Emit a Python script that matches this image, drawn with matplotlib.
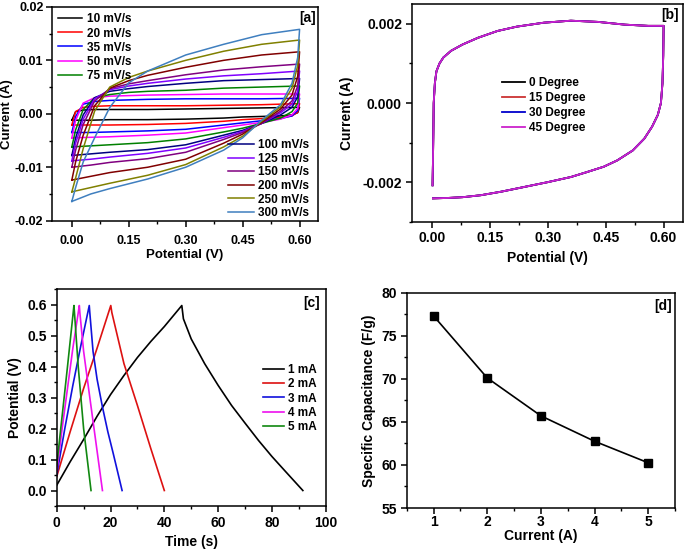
import matplotlib
matplotlib.use('Agg')
from matplotlib import pyplot as plt
from matplotlib.ticker import MultipleLocator, FormatStrFormatter

plt.rcParams['font.family'] = 'Liberation Sans'
plt.rcParams['font.weight'] = 'bold'
plt.rcParams['axes.unicode_minus'] = False
plt.rcParams['axes.linewidth'] = 1.1

# ---------------------------------------------------------------------------
# [a] CV at different scan rates
# ---------------------------------------------------------------------------
scan_labels = ['10 mV/s', '20 mV/s', '35 mV/s', '50 mV/s', '75 mV/s',
               '100 mV/s', '125 mV/s', '150 mV/s', '200 mV/s', '250 mV/s', '300 mV/s']
scan_colors = ['#000000', '#ff0000', '#0000ff', '#ff00ff', '#008000',
               '#000080', '#8000ff', '#800080', '#800000', '#808000', '#3f7fbf']

v_up = [0.0, 0.01, 0.03, 0.06, 0.1, 0.15, 0.2, 0.3, 0.4, 0.5, 0.6]
v_down = [0.6, 0.595, 0.58, 0.55, 0.5, 0.45, 0.4, 0.3, 0.2, 0.1, 0.05, 0.0]

i_up = [
    [-0.0012, 0.0004, 0.0007, 0.0008, 0.0008, 0.0008, 0.0008, 0.0009, 0.0010, 0.0011, 0.0012],
    [-0.0021, 0.0004, 0.0012, 0.0014, 0.0015, 0.0015, 0.0015, 0.0015, 0.0016, 0.0017, 0.0019],
    [-0.0035, -0.0005, 0.0018, 0.0023, 0.0025, 0.0026, 0.0027, 0.0028, 0.0028, 0.0028, 0.0029],
    [-0.0045, -0.0012, 0.0020, 0.0030, 0.0033, 0.0034, 0.0035, 0.0036, 0.0037, 0.0037, 0.0037],
    [-0.0062, -0.0030, 0.0008, 0.0030, 0.0036, 0.0040, 0.0042, 0.0044, 0.0048, 0.0050, 0.0052],
    [-0.0078, -0.0045, -0.0002, 0.0030, 0.0042, 0.0047, 0.0051, 0.0057, 0.0062, 0.0064, 0.0066],
    [-0.0088, -0.0055, -0.0010, 0.0028, 0.0045, 0.0052, 0.0057, 0.0065, 0.0071, 0.0075, 0.0080],
    [-0.0100, -0.0068, -0.0020, 0.0024, 0.0047, 0.0056, 0.0062, 0.0073, 0.0082, 0.0088, 0.0093],
    [-0.0124, -0.0090, -0.0040, 0.0015, 0.0048, 0.0062, 0.0072, 0.0087, 0.0100, 0.0110, 0.0116],
    [-0.0146, -0.0120, -0.0065, 0.0005, 0.0050, 0.0068, 0.0080, 0.0100, 0.0117, 0.0130, 0.0138],
    [-0.0164, -0.0138, -0.0090, -0.0045, 0.0012, 0.0058, 0.0080, 0.0110, 0.0130, 0.0148, 0.0158],
]
i_down = [
    [0.0012, 0.0002, -0.0002, -0.0004, -0.0005, -0.0006, -0.0008, -0.0010, -0.0011, -0.0011, -0.0012, -0.0012],
    [0.0019, 0.0003, -0.0004, -0.0007, -0.0009, -0.0011, -0.0014, -0.0018, -0.0020, -0.0021, -0.0021, -0.0021],
    [0.0029, 0.0006, -0.0004, -0.0009, -0.0013, -0.0017, -0.0021, -0.0029, -0.0032, -0.0034, -0.0035, -0.0035],
    [0.0037, 0.0010, -0.0002, -0.0010, -0.0016, -0.0021, -0.0026, -0.0036, -0.0040, -0.0043, -0.0044, -0.0045],
    [0.0052, 0.0020, 0.0004, -0.0008, -0.0018, -0.0027, -0.0034, -0.0047, -0.0054, -0.0058, -0.0060, -0.0062],
    [0.0066, 0.0032, 0.0012, -0.0002, -0.0018, -0.0031, -0.0040, -0.0058, -0.0067, -0.0072, -0.0075, -0.0078],
    [0.0080, 0.0042, 0.0018, 0.0002, -0.0018, -0.0033, -0.0044, -0.0064, -0.0074, -0.0081, -0.0085, -0.0088],
    [0.0093, 0.0052, 0.0024, 0.0005, -0.0018, -0.0035, -0.0048, -0.0072, -0.0084, -0.0091, -0.0096, -0.0100],
    [0.0116, 0.0070, 0.0035, 0.0009, -0.0016, -0.0038, -0.0055, -0.0085, -0.0100, -0.0110, -0.0117, -0.0124],
    [0.0138, 0.0090, 0.0048, 0.0013, -0.0014, -0.0042, -0.0062, -0.0095, -0.0115, -0.0130, -0.0138, -0.0146],
    [0.0158, 0.0105, 0.0057, 0.0017, -0.0012, -0.0045, -0.0068, -0.0100, -0.0122, -0.0140, -0.0150, -0.0164],
]

# ---------------------------------------------------------------------------
# [b] CV at different bending angles (the four curves overlap)
# ---------------------------------------------------------------------------
angle_labels = ['0 Degree', '15 Degree', '30 Degree', '45 Degree']
angle_colors = ['#000000', '#cc3333', '#0000cc', '#cc22cc']
bend_v = [0.002, 0.003, 0.004, 0.005, 0.008, 0.012, 0.02, 0.03, 0.05, 0.08, 0.12, 0.17, 0.22,
          0.29, 0.36, 0.43, 0.5, 0.56, 0.6,
          0.6, 0.599, 0.597, 0.593, 0.585, 0.57, 0.55, 0.52, 0.48, 0.445, 0.40, 0.36, 0.30,
          0.24, 0.18, 0.127, 0.08, 0.04, 0.003]
bend_i = [-0.00208, -0.0015, -0.0008, 0.0, 0.0005, 0.0008, 0.001, 0.00115, 0.00132, 0.00148, 0.00165,
          0.00182, 0.00193, 0.00203, 0.00208, 0.00205, 0.00198, 0.00195, 0.00195,
          0.00195, 0.0012, 0.0005, 0.0, -0.0003, -0.0006, -0.0009, -0.0012, -0.00145, -0.00161,
          -0.00175, -0.00187, -0.002, -0.00212, -0.00224, -0.00233, -0.00238, -0.0024, -0.00241]

# ---------------------------------------------------------------------------
# [c] galvanostatic charge/discharge
# ---------------------------------------------------------------------------
gcd_labels = ['1 mA', '2 mA', '3 mA', '4 mA', '5 mA']
gcd_colors = ['#000000', '#dd1111', '#1111dd', '#ee11ee', '#118811']
gcd_t = [
    [0, 5, 10, 15, 20, 25, 30, 35, 40, 46.5, 47.1, 50, 55, 60, 65, 70, 75, 80, 85, 91.5],
    [0, 5, 10, 15, 20.1, 20.5, 25, 30, 35, 40],
    [0, 3, 6, 9, 12.1, 12.3, 13.5, 15, 17, 19, 21, 24.3],
    [0, 2, 4, 6, 8.4, 8.6, 10, 12, 14.5, 17.0],
    [0, 2, 4, 6.4, 6.6, 8, 10, 12.75],
]
gcd_v = [
    [0.017, 0.093, 0.165, 0.24, 0.31, 0.372, 0.43, 0.482, 0.53, 0.598, 0.555, 0.49, 0.41, 0.34, 0.275,
     0.218, 0.162, 0.11, 0.062, 0.0],
    [0.045, 0.19, 0.33, 0.46, 0.598, 0.575, 0.41, 0.275, 0.135, 0.0],
    [0.05, 0.2, 0.34, 0.47, 0.598, 0.575, 0.45, 0.36, 0.27, 0.19, 0.12, 0.0],
    [0.06, 0.2, 0.33, 0.46, 0.598, 0.575, 0.45, 0.32, 0.16, 0.0],
    [0.08, 0.24, 0.40, 0.598, 0.575, 0.40, 0.2, 0.0],
]

# ---------------------------------------------------------------------------
# [d] specific capacitance
# ---------------------------------------------------------------------------
current = [1, 2, 3, 4, 5]
capacitance = [77.3, 70.1, 65.7, 62.75, 60.25]

LEG_FS = 8.5


def style_axes(ax, size=10, pad=3):
    ax.tick_params(which='major', direction='out', length=4, width=1.1, labelsize=size, pad=pad)
    ax.tick_params(which='minor', direction='out', length=2.5, width=1.0)
    for lab in ax.get_xticklabels() + ax.get_yticklabels():
        lab.set_fontweight('bold')


def panel_tag(ax, text, x, y):
    ax.text(x, y, text, transform=ax.transAxes, ha='right', va='center',
            fontsize=10, fontweight='bold')


fig = plt.figure(figsize=(6.85, 5.51), dpi=100)

ax_a = fig.add_axes([0.0755, 0.5995, 0.389, 0.388])
ax_b = fig.add_axes([0.601, 0.5976, 0.396, 0.395])
ax_c = fig.add_axes([0.0828, 0.0817, 0.3927, 0.393])
ax_d = fig.add_axes([0.5937, 0.078, 0.3917, 0.391])

# [a]
lines_a = []
for k in range(len(scan_labels)):
    vv = v_up + v_down
    ii = i_up[k] + i_down[k]
    ln, = ax_a.plot(vv, ii, color=scan_colors[k], lw=1.1, label=scan_labels[k])
    lines_a.append(ln)
ax_a.set_xlim(-0.053, 0.649)
ax_a.set_ylim(-0.02, 0.02)
ax_a.xaxis.set_major_locator(MultipleLocator(0.15))
ax_a.xaxis.set_minor_locator(MultipleLocator(0.075))
ax_a.yaxis.set_major_locator(MultipleLocator(0.01))
ax_a.yaxis.set_minor_locator(MultipleLocator(0.005))
ax_a.xaxis.set_major_formatter(FormatStrFormatter('%.2f'))
ax_a.yaxis.set_major_formatter(FormatStrFormatter('%.2f'))
ax_a.set_xlabel('Potential (V)', fontsize=9.5, fontweight='bold', labelpad=2)
ax_a.set_ylabel('Current (A)', fontsize=9.5, fontweight='bold', labelpad=1)
leg1 = ax_a.legend(handles=lines_a[:5], loc='upper left', bbox_to_anchor=(0.0, 1.0),
                   frameon=False, fontsize=LEG_FS, handlelength=2.0, handletextpad=0.4,
                   labelspacing=0.18, borderpad=0.05)
ax_a.add_artist(leg1)
ax_a.legend(handles=lines_a[5:], loc='lower right', bbox_to_anchor=(0.99, -0.02),
            frameon=False, fontsize=LEG_FS, handlelength=2.2, handletextpad=0.4,
            labelspacing=0.13, borderpad=0.0)
panel_tag(ax_a, '[a]', 0.99, 0.949)
style_axes(ax_a, size=9, pad=2)
ax_a.tick_params(axis='x', which='major', pad=6)

# [b]
for k in range(len(angle_labels)):
    ax_b.plot(bend_v, bend_i, color=angle_colors[k], lw=1.3, label=angle_labels[k])
ax_b.set_xlim(-0.052, 0.65)
ax_b.set_ylim(-0.003, 0.0025)
ax_b.xaxis.set_major_locator(MultipleLocator(0.15))
ax_b.xaxis.set_minor_locator(MultipleLocator(0.075))
ax_b.yaxis.set_major_locator(MultipleLocator(0.002))
ax_b.yaxis.set_minor_locator(MultipleLocator(0.001))
ax_b.xaxis.set_major_formatter(FormatStrFormatter('%.2f'))
ax_b.yaxis.set_major_formatter(FormatStrFormatter('%.3f'))
ax_b.set_xlabel('Potential (V)', fontsize=10, fontweight='bold')
ax_b.set_ylabel('Current (A)', fontsize=10, fontweight='bold', labelpad=6)
ax_b.legend(loc='upper left', bbox_to_anchor=(0.31, 0.69), frameon=False,
            fontsize=LEG_FS, handlelength=2.0, handletextpad=0.3,
            labelspacing=0.25, borderpad=0.0)
panel_tag(ax_b, '[b]', 0.985, 0.95)
style_axes(ax_b)

# [c]
for k in range(len(gcd_labels)):
    ax_c.plot(gcd_t[k], gcd_v[k], color=gcd_colors[k], lw=1.2, label=gcd_labels[k])
ax_c.set_xlim(0, 100)
ax_c.set_ylim(-0.05, 0.65)
ax_c.xaxis.set_major_locator(MultipleLocator(20))
ax_c.xaxis.set_minor_locator(MultipleLocator(10))
ax_c.yaxis.set_major_locator(MultipleLocator(0.1))
ax_c.yaxis.set_minor_locator(MultipleLocator(0.05))
ax_c.yaxis.set_major_formatter(FormatStrFormatter('%.1f'))
ax_c.set_xlabel('Time (s)', fontsize=10, fontweight='bold')
ax_c.set_ylabel('Potential (V)', fontsize=10, fontweight='bold')
ax_c.legend(loc='upper right', bbox_to_anchor=(1.0, 0.70), frameon=False,
            fontsize=LEG_FS, handlelength=1.8, handletextpad=0.3,
            labelspacing=0.2, borderpad=0.3)
panel_tag(ax_c, '[c]', 0.98, 0.938)
style_axes(ax_c)

# [d]
ax_d.plot(current, capacitance, color='black', lw=1.2, marker='s', markersize=5.5)
ax_d.set_xlim(0.5, 5.5)
ax_d.set_ylim(55, 80)
ax_d.xaxis.set_major_locator(MultipleLocator(1))
ax_d.xaxis.set_minor_locator(MultipleLocator(0.5))
ax_d.yaxis.set_major_locator(MultipleLocator(5))
ax_d.yaxis.set_minor_locator(MultipleLocator(2.5))
ax_d.set_xlabel('Current (A)', fontsize=10, fontweight='bold', labelpad=0)
ax_d.set_ylabel('Specific Capacitance (F/g)', fontsize=10, fontweight='bold')
panel_tag(ax_d, '[d]', 0.99, 0.939)
style_axes(ax_d)
ax_d.tick_params(axis='x', which='major', pad=1)

fig.savefig('out.png', dpi=100)
